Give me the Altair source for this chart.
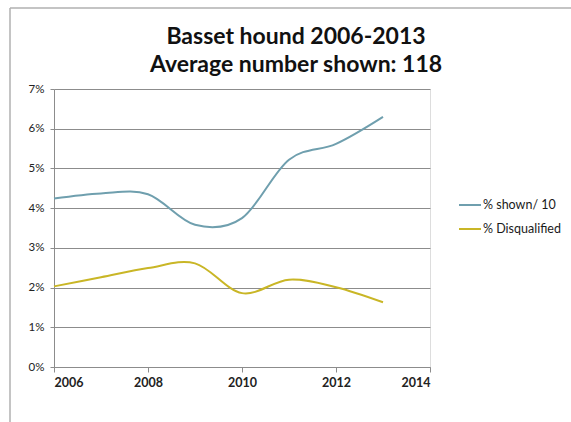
import altair as alt
import pandas as pd

# Yearly values, in percent
years = [2006, 2007, 2008, 2009, 2010, 2011, 2012, 2013]
pct_shown_div10 = [4.24, 4.37, 4.35, 3.58, 3.75, 5.22, 5.62, 6.30]
pct_disqualified = [2.03, 2.26, 2.49, 2.61, 1.86, 2.20, 2.01, 1.63]

series_names = ["% shown/ 10", "% Disqualified"]
series_colors = ["#6f9fae", "#c9b626"]
title_lines = ["Basset hound 2006-2013", "Average number shown: 118"]

rows = []
for name, vals in zip(series_names, [pct_shown_div10, pct_disqualified]):
    for yr, v in zip(years, vals):
        rows.append({"year": yr, "value": v, "series": name})
df = pd.DataFrame(rows)

FONT = "Lato"

lines = alt.Chart(df).mark_line(interpolate="cardinal", strokeWidth=2).encode(
    x=alt.X(
        "year:Q",
        scale=alt.Scale(domain=[2006, 2014], nice=False, zero=False),
        axis=alt.Axis(
            values=[2006, 2008, 2010, 2012, 2014],
            format="d",
            title=None,
            grid=False,
            domainColor="#8c8c8c",
            tickColor="#8c8c8c",
            tickSize=5,
            labelFont=FONT,
            labelFontSize=12.5,
            labelFontWeight="bold",
            labelColor="#222222",
            labelPadding=4,
        ),
    ),
    y=alt.Y(
        "value:Q",
        scale=alt.Scale(domain=[0, 7], nice=False),
        axis=alt.Axis(
            values=[0, 1, 2, 3, 4, 5, 6, 7],
            labelExpr="datum.value + '%'",
            title=None,
            grid=True,
            gridColor="#8c8c8c",
            gridWidth=1,
            domainColor="#8c8c8c",
            tickColor="#8c8c8c",
            tickSize=4,
            labelFont=FONT,
            labelFontSize=11.5,
            labelColor="#222222",
            labelPadding=6,
        ),
    ),
    color=alt.Color(
        "series:N",
        scale=alt.Scale(domain=series_names, range=series_colors),
        legend=alt.Legend(
            title=None,
            orient="none",
            legendX=404,
            legendY=104,
            symbolType="stroke",
            symbolSize=484,
            symbolStrokeWidth=2,
            labelFont=FONT,
            labelFontSize=12.5,
            labelColor="#1a1a1a",
            labelOffset=1,
            rowPadding=5,
        ),
    ),
)

# Two-line heading above the plot
heading = alt.Chart().mark_text(
    text=title_lines,
    font=FONT,
    fontSize=23,
    fontWeight="bold",
    color="#111111",
    align="center",
    baseline="alphabetic",
    lineHeight=28,
).encode(x=alt.value(242), y=alt.value(-45))

# Frame lines along the top and left edges of the chart
frame_top = alt.Chart().mark_rule(color="#b0b0b0", strokeWidth=1.5).encode(
    x=alt.value(-44), x2=alt.value(520), y=alt.value(-81)
)
frame_left = alt.Chart().mark_rule(color="#b0b0b0", strokeWidth=1.5).encode(
    x=alt.value(-44), y=alt.value(-81), y2=alt.value(340)
)

chart = alt.layer(lines, heading, frame_top, frame_left).properties(
    width=376,
    height=278,
    autosize=alt.AutoSizeParams(type="none"),
    padding={"left": 54, "top": 89, "right": 141, "bottom": 55},
).configure_view(stroke=None).configure(background="white")

chart.save("out.html", embed_options={"renderer": "svg", "actions": False})
